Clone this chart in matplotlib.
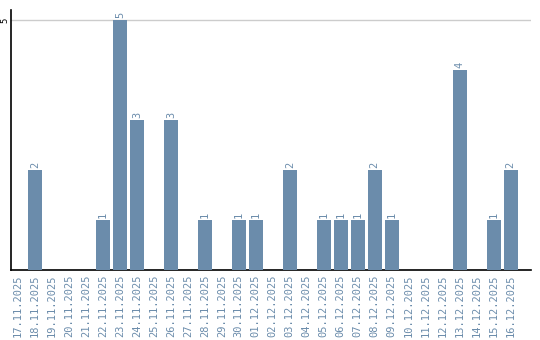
import matplotlib
matplotlib.use("Agg")
import matplotlib.pyplot as plt

dates = ["17.11.2025","18.11.2025","19.11.2025","20.11.2025","21.11.2025","22.11.2025",
         "23.11.2025","24.11.2025","25.11.2025","26.11.2025","27.11.2025","28.11.2025",
         "29.11.2025","30.11.2025","01.12.2025","02.12.2025","03.12.2025","04.12.2025",
         "05.12.2025","06.12.2025","07.12.2025","08.12.2025","09.12.2025","10.12.2025",
         "11.12.2025","12.12.2025","13.12.2025","14.12.2025","15.12.2025","16.12.2025"]
values = [0,2,0,0,0,1,5,3,0,3,0,1,0,1,1,0,2,0,1,1,1,2,1,0,0,0,4,0,1,2]

color = "#6b8cab"
fig = plt.figure(figsize=(5.4, 3.4), dpi=100)
ax = fig.add_axes([11/540, 70/340, 520/540, 260/340])
x = list(range(len(dates)))
ax.bar(x, values, width=0.82, color=color, zorder=3)
for xi, v in zip(x, values):
    if v > 0:
        ax.text(xi, v + 0.05, str(v), rotation=90, ha="center", va="bottom",
                color=color, fontsize=7.5, family="DejaVu Sans Mono")
ax.set_xlim(-0.41, 30.2)
ax.set_ylim(0, 5.2)
ax.set_yticks([5])
ax.set_yticklabels(["5"], rotation=90, va="center", fontsize=6.5, family="DejaVu Sans Mono")
ax.grid(axis="y", color="#cccccc", linewidth=1, zorder=0)
ax.set_xticks(x)
ax.set_xticklabels(dates, rotation=90, color=color, fontsize=7.5, family="DejaVu Sans Mono")
ax.tick_params(axis="both", length=0, pad=3)
ax.tick_params(axis="y", pad=1)
for s in ["top", "right"]:
    ax.spines[s].set_visible(False)
ax.spines["left"].set_linewidth(1.2)
ax.spines["bottom"].set_linewidth(1.2)
fig.savefig("out.png", dpi=100)
